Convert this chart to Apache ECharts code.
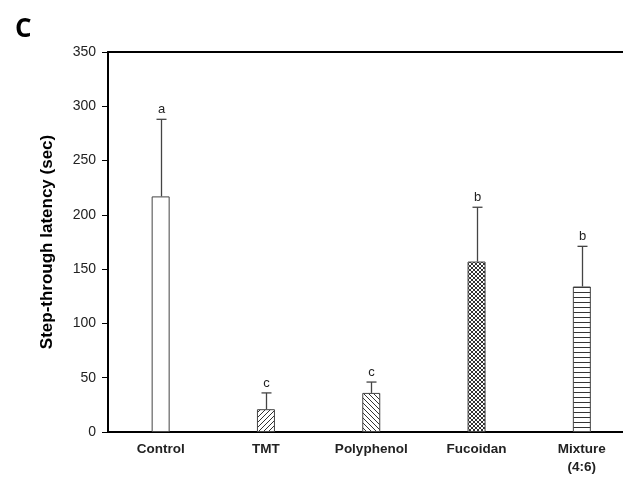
<!DOCTYPE html>
<html><head><meta charset="utf-8">
<script src="https://cdn.jsdelivr.net/npm/echarts@6/dist/echarts.min.js"></script>
<style>html,body{margin:0;padding:0;background:#fff}#c{width:623px;height:477px}</style>
</head><body><div id="c"></div>
<script>
const categories = ['Control', 'TMT', 'Polyphenol', 'Fucoidan', 'Mixture\n(4:6)'];
const means = [217, 21, 36, 157, 134];
const upperErrors = [288, 36, 46, 207, 171];
const letters = ['a', 'c', 'c', 'b', 'b'];
const yTicks = [0, 50, 100, 150, 200, 250, 300, 350];

function makePattern(kind) {
  const s = kind === 'cross' ? 4 : 5;
  const cv = document.createElement('canvas');
  cv.width = s; cv.height = s;
  const g = cv.getContext('2d');
  g.fillStyle = '#fff'; g.fillRect(0, 0, s, s);
  g.strokeStyle = '#333'; g.lineWidth = 1;
  g.beginPath();
  if (kind === 'fwd' || kind === 'cross') { g.moveTo(-1, s + 1); g.lineTo(s + 1, -1); g.moveTo(-1, 1); g.lineTo(1, -1); g.moveTo(s - 1, s + 1); g.lineTo(s + 1, s - 1); }
  if (kind === 'back' || kind === 'cross') { g.moveTo(-1, -1); g.lineTo(s + 1, s + 1); g.moveTo(s - 1, -1); g.lineTo(s + 1, 1); g.moveTo(-1, s - 1); g.lineTo(1, s + 1); }
  if (kind === 'horiz') { g.moveTo(0, 2.5); g.lineTo(s, 2.5); }
  g.stroke();
  return { image: cv, repeat: 'repeat' };
}
const patternKinds = ['none', 'fwd', 'back', 'cross', 'horiz'];

const chart = echarts.init(document.getElementById('c'), null, { renderer: 'canvas' });
const font = 'Arial, "Liberation Sans", sans-serif';
chart.setOption({
  animation: false,
  title: { text: 'C', left: 10, top: 12, textStyle: { fontSize: 26, fontWeight: 'bold', color: '#000', fontFamily: '"Open Sans", Arial, sans-serif' } },
  grid: { left: 108, top: 52, bottom: 45, width: 526.5, outerBoundsMode: 'none', containLabel: false },
  xAxis: [{
    type: 'category', data: categories, position: 'bottom',
    axisLine: { lineStyle: { color: '#000', width: 2 } },
    axisTick: { show: false },
    axisLabel: { color: '#222', fontWeight: 'bold', fontSize: 13.5, fontFamily: font, margin: 8, lineHeight: 18 }
  }, {
    type: 'category', data: categories, position: 'top',
    axisLine: { lineStyle: { color: '#000', width: 2 } },
    axisTick: { show: false }, axisLabel: { show: false }
  }],
  yAxis: {
    type: 'value', min: yTicks[0], max: yTicks[yTicks.length - 1], interval: 50,
    name: 'Step-through latency (sec)', nameLocation: 'middle', nameGap: 52,
    nameTextStyle: { fontSize: 17, fontWeight: 'bold', color: '#000', fontFamily: font },
    axisLine: { show: true, lineStyle: { color: '#000', width: 2 } },
    axisTick: { show: true, length: 6, lineStyle: { color: '#000', width: 1 } },
    axisLabel: { color: '#222', fontSize: 14, fontFamily: font, margin: 12 },
    splitLine: { show: false }
  },
  series: [{
    type: 'bar', barWidth: 18,
    data: means.map((v, i) => ({ value: v, itemStyle: { color: makePattern(patternKinds[i]), borderColor: '#444', borderWidth: 1 } })),
    z: 2
  }, {
    type: 'custom',
    data: categories.map((c, i) => [i, means[i], upperErrors[i]]),
    renderItem: function (params, api) {
      const base = api.coord([api.value(0), api.value(1)]);
      const top = api.coord([api.value(0), api.value(2)]);
      const x = Math.round(base[0]) + 0.5;
      return { type: 'group', children: [
        { type: 'line', shape: { x1: x, y1: base[1], x2: x, y2: top[1] }, style: { stroke: '#444', lineWidth: 1.3 } },
        { type: 'line', shape: { x1: x - 5, y1: top[1], x2: x + 5, y2: top[1] }, style: { stroke: '#444', lineWidth: 1.3 } },
        { type: 'text', x: x, y: top[1] - 3, style: { text: letters[params.dataIndex], textAlign: 'center', textVerticalAlign: 'bottom', fill: '#222', font: '13px Arial, "Liberation Sans", sans-serif' } }
      ] };
    },
    z: 3
  }]
});
</script></body></html>
